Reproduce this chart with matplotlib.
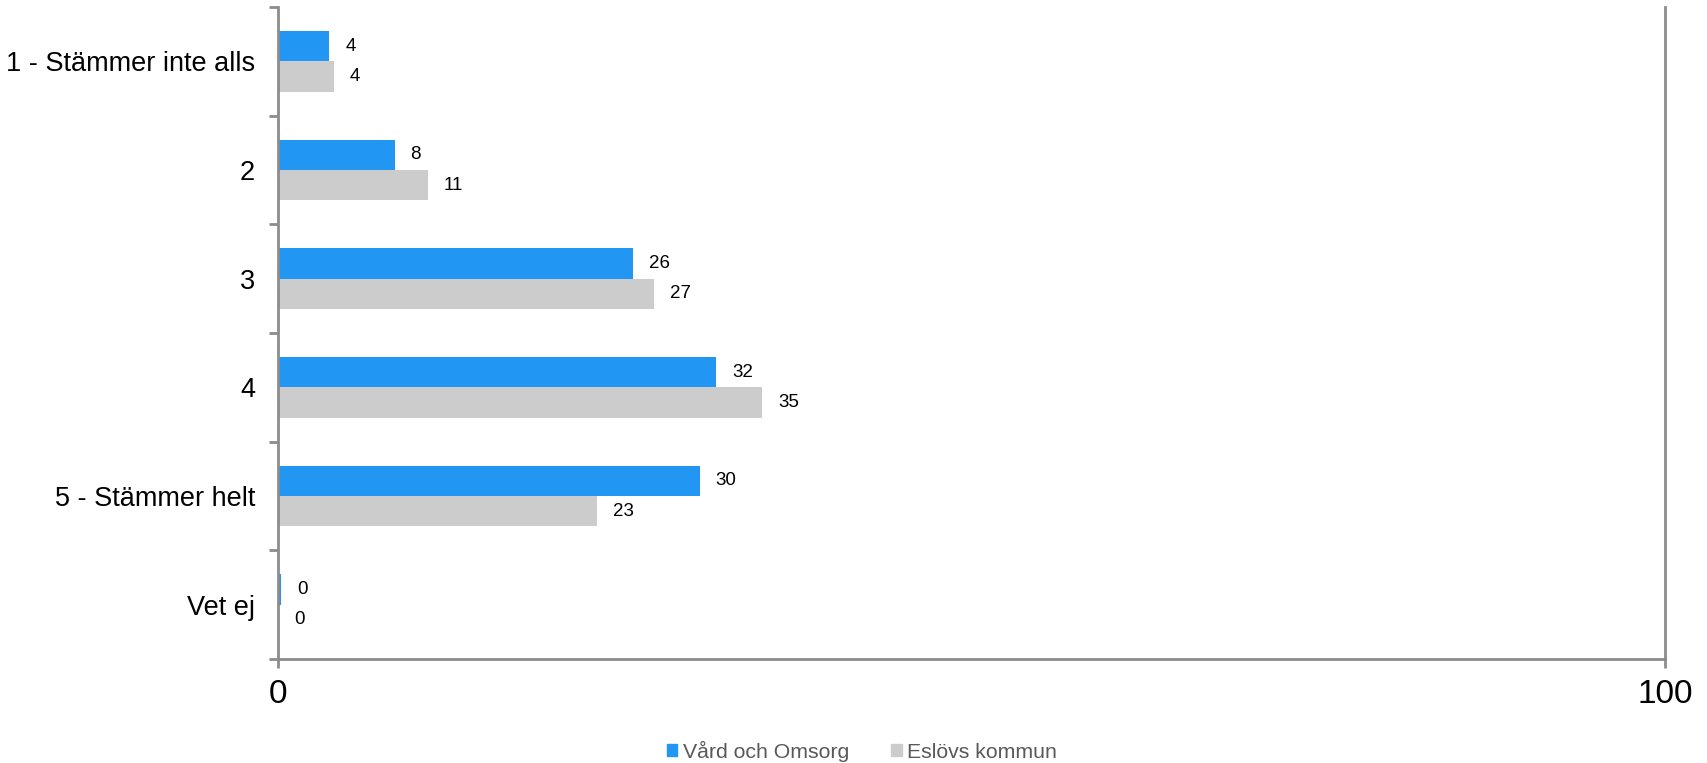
import matplotlib.pyplot as plt
import numpy as np
from matplotlib.patches import Patch

categories = ['1 - Stämmer inte alls', '2', '3', '4', '5 - Stämmer helt', 'Vet ej']
vard = [3.7, 8.4, 25.6, 31.6, 30.4, 0.2]
eslov = [4.0, 10.8, 27.1, 34.9, 23.0, 0.0]
series_names = ['Vård och Omsorg', 'Eslövs kommun']
xticks = [0, 100]

plt.rcParams['font.family'] = ['Liberation Sans', 'DejaVu Sans']

blue = '#2196F3'
gray = '#CCCCCC'
axis_color = '#8C8C8C'

fig = plt.figure(figsize=(17.07, 7.63), dpi=100)
ax = fig.add_axes([0.1629, 0.1363, 0.9754 - 0.1629, 0.9908 - 0.1363])

y = np.arange(len(categories))
h = 0.28
ax.barh(y - h / 2, vard, height=h, color=blue, label=series_names[0])
ax.barh(y + h / 2, eslov, height=h, color=gray, label=series_names[1])

# value labels next to the bars
for yi, v in zip(y, vard):
    ax.annotate(f"{v:.0f}", (v, yi - h / 2), xytext=(16, 0), textcoords='offset pixels',
                va='center', ha='left', fontsize=13.5, color='black')
for yi, v in zip(y, eslov):
    ax.annotate(f"{v:.0f}", (v, yi + h / 2), xytext=(16, 0), textcoords='offset pixels',
                va='center', ha='left', fontsize=13.5, color='black')

ax.set_xlim(0, 100)
ax.set_ylim(len(categories) - 0.5, -0.5)

ax.set_yticks(y)
ax.set_yticklabels(categories, fontsize=19.5)
ax.set_yticks(np.arange(len(categories) + 1) - 0.5, minor=True)
ax.tick_params(axis='y', which='major', length=0, pad=16.5)
ax.tick_params(axis='y', which='minor', length=6.5, width=2, color=axis_color)

ax.set_xticks(xticks)
ax.set_xticklabels([str(t) for t in xticks], fontsize=24)
ax.tick_params(axis='x', length=6.5, width=2, color=axis_color, pad=8)

for side in ['left', 'right', 'bottom']:
    ax.spines[side].set_color(axis_color)
    ax.spines[side].set_linewidth(2)
ax.spines['top'].set_visible(False)

handles = [Patch(color=blue), Patch(color=gray)]
leg = fig.legend(handles, series_names, loc='center', bbox_to_anchor=(0.505, 1 - 751 / 763),
                 ncol=2, frameon=False, fontsize=15.3, handlelength=0.5, handleheight=0.5,
                 handletextpad=0.25, columnspacing=2.0)
for t in leg.get_texts():
    t.set_color('#595959')

fig.savefig('out.png', dpi=100)
